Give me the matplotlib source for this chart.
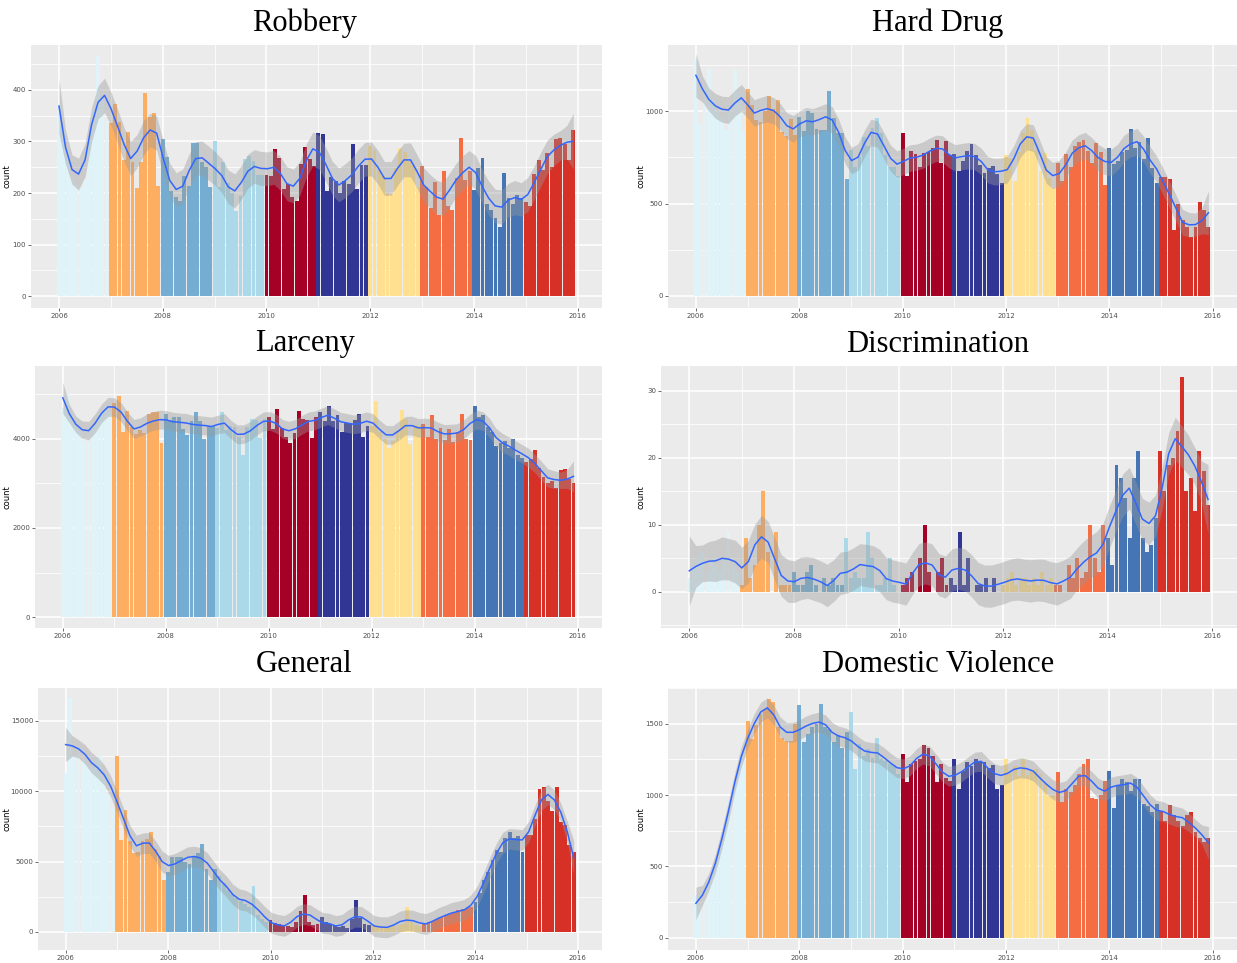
import numpy as np
import matplotlib
matplotlib.use("Agg")
import matplotlib.pyplot as plt

# monthly counts, Jan 2006 .. Dec 2015 (one row per year)
robbery = [
    370, 320, 280, 230, 215, 210, 225, 300, 360, 465, 385, 340,
    336, 373, 338, 264, 318, 260, 210, 260, 394, 347, 355, 213,
    305, 270, 203, 192, 184, 232, 214, 297, 297, 261, 250, 212,
    300, 212, 260, 220, 200, 165, 195, 265, 272, 262, 235, 235,
    235, 233, 285, 268, 207, 218, 193, 184, 256, 289, 266, 252,
    316, 314, 203, 231, 223, 200, 224, 218, 295, 207, 254, 254,
    292, 283, 245, 232, 200, 198, 248, 288, 280, 262, 255, 211,
    252, 211, 170, 221, 157, 242, 175, 168, 230, 307, 226, 242,
    205, 248, 268, 178, 168, 152, 135, 238, 190, 178, 197, 190,
    182, 175, 236, 264, 244, 277, 250, 305, 306, 295, 264, 322,
]
hard_drug = [
    1280, 930, 1130, 1225, 1060, 1000, 960, 895, 1000, 1220, 1100, 900,
    1118, 1035, 950, 940, 1000, 1080, 1010, 1060, 885, 865, 955, 870,
    970, 890, 1000, 990, 905, 900, 895, 1110, 960, 880, 880, 630,
    790, 700, 750, 860, 810, 910, 960, 880, 760, 700, 700, 650,
    880, 650, 785, 765, 700, 775, 780, 800, 845, 720, 840, 760,
    770, 675, 730, 785, 820, 760, 710, 665, 690, 705, 660, 610,
    760, 745, 620, 780, 880, 960, 900, 790, 675, 775, 640, 585,
    720, 620, 770, 700, 810, 830, 845, 785, 720, 825, 780, 600,
    800, 715, 730, 780, 790, 905, 800, 830, 740, 855, 690, 610,
    645, 645, 635, 355, 500, 410, 375, 320, 375, 510, 465, 375,
]
larceny = [
    4700, 5000, 4500, 4350, 4200, 3950, 4200, 4300, 4450, 4600, 4750, 4600,
    4800, 4960, 4150, 4630, 4280, 4110, 4200, 4130, 4570, 4600, 4600, 3910,
    4570, 4420, 4500, 4500, 4230, 4100, 4400, 4600, 4400, 3990, 4300, 4300,
    4250, 4600, 4200, 4300, 4280, 4050, 3650, 4280, 4450, 4430, 4030, 4450,
    4500, 4220, 4680, 4250, 4050, 3900, 4140, 4620, 4440, 4420, 4030, 4500,
    4600, 4400, 4750, 4400, 4540, 4150, 4350, 4350, 4430, 4570, 4050, 4300,
    4300, 4860, 4150, 4000, 3800, 3950, 4200, 4650, 4450, 3880, 4320, 4300,
    4330, 4050, 4550, 4000, 4250, 3970, 4230, 3940, 4150, 4570, 4010, 3980,
    4730, 4500, 4540, 4270, 4150, 3850, 3900, 3960, 3800, 3990, 3650, 3570,
    3480, 3550, 3750, 3350, 3150, 3000, 3050, 2900, 3300, 3320, 3100, 3020,
]
discrimination = [
    2, 4, 5, 6, 3, 5, 4, 3, 5, 9, 4, 3,
    1, 8, 2, 4, 10, 15, 6, 0, 9, 1, 1, 1,
    3, 1, 1, 3, 4, 1, 0, 2, 1, 2, 1, 1,
    8, 2, 3, 2, 2, 9, 5, 1, 1, 2, 5, 1,
    0, 1, 2, 3, 0, 5, 10, 3, 0, 3, 5, 1,
    2, 1, 9, 1, 5, 0, 1, 1, 2, 0, 2, 0,
    1, 2, 3, 1, 2, 2, 1, 2, 1, 3, 1, 2,
    1, 1, 0, 4, 2, 5, 2, 3, 10, 5, 3, 10,
    8, 4, 19, 17, 14, 8, 17, 21, 8, 6, 7, 11,
    21, 15, 19, 20, 24, 32, 15, 17, 12, 21, 18, 13,
]
general = [
    11300, 16600, 12600, 13200, 12200, 11900, 11700, 12200, 12600, 11000, 9800, 8800,
    12500, 6540, 8700, 6500, 5600, 5700, 6500, 6600, 7100, 5900, 5400, 3700,
    4300, 5300, 5300, 5300, 5000, 4800, 5300, 5600, 6250, 4500, 3700, 4500,
    4000, 3500, 3000, 2700, 2400, 2200, 2000, 1800, 3300, 1200, 900, 700,
    870, 650, 600, 500, 400, 380, 700, 1500, 2650, 700, 500, 550,
    1100, 700, 600, 500, 350, 400, 300, 900, 2300, 1000, 600, 500,
    500, 400, 450, 350, 350, 400, 500, 600, 1800, 700, 500, 400,
    600, 700, 800, 900, 1100, 1200, 1300, 1400, 1550, 1600, 1700, 1800,
    2100, 2800, 3700, 4300, 5100, 5800, 5700, 6700, 7100, 6700, 6800, 5700,
    6900, 6900, 8000, 10200, 10300, 9300, 8600, 10300, 7800, 7600, 6200, 5700,
]
domestic_violence = [
    300, 230, 280, 380, 480, 560, 680, 820, 950, 1080, 1200, 1300,
    1520, 1390, 1490, 1570, 1600, 1670, 1650, 1480, 1400, 1380, 1380, 1500,
    1630, 1370, 1430, 1480, 1500, 1640, 1480, 1460, 1370, 1420, 1330, 1440,
    1580, 1180, 1360, 1270, 1320, 1260, 1400, 1250, 1240, 1220, 1210, 1150,
    1290, 1090, 1220, 1240, 1250, 1350, 1330, 1270, 1090, 1220, 1120, 1100,
    1250, 1040, 1170, 1230, 1200, 1250, 1240, 1230, 1190, 1210, 1040, 1070,
    1250, 1160, 1200, 1130, 1250, 1140, 1170, 1180, 1150, 1080, 990, 1000,
    1160, 950, 1040, 1020, 1070, 1150, 1220, 1250, 980, 970, 1000, 1100,
    1170, 910, 1070, 1110, 1090, 1030, 1110, 1110, 940, 920, 880, 940,
    890, 820, 930, 860, 820, 780, 860, 880, 740, 700, 670, 700,
]

years = list(range(2006, 2016))
year_colors = ["#e0f3f8", "#fdae61", "#74add1", "#abd9e9", "#a50026",
               "#313695", "#fee090", "#f46d43", "#4575b4", "#d73027"]

titles = ["Robbery", "Hard Drug", "Larceny", "Discrimination", "General", "Domestic Violence"]
series = [robbery, hard_drug, larceny, discrimination, general, domestic_violence]
y_ticks = [[0, 100, 200, 300, 400], [0, 500, 1000], [0, 2000, 4000],
           [0, 10, 20, 30], [0, 5000, 10000, 15000], [0, 500, 1000, 1500]]
x_ticks = [2006, 2008, 2010, 2012, 2014, 2016]

# panel boxes in pixels (left, top, right, bottom) and y limits
W, H = 1237, 963
boxes = [(31, 45, 602, 308), (668, 45, 1237, 308),
         (35, 366, 602, 628), (661, 366, 1237, 628),
         (38, 688, 602, 950), (668, 688, 1237, 950)]
ylims = [(-23, 487), (-65, 1357), (-247, 5640), (-5.4, 33.7), (-1280, 17346), (-86, 1750)]
title_pos = [(305, 23), (938, 23), (305, 344), (938, 344), (304, 665), (938, 665)]
ylabel_x = [12, 645, 12, 645, 12, 645]
XLIM = (2005.46, 2016.47)


def loess_operator(x, xs, span):
    """Rows of the local quadratic (tricube) smoother evaluated at xs."""
    n = len(x)
    q = int(np.floor(span * n))
    rows = []
    for x0 in xs:
        d = np.abs(x - x0)
        h = np.sort(d)[q - 1] * 1.0001
        u = d / h
        w = np.where(u < 1, (1 - u ** 3) ** 3, 0.0)
        B = np.column_stack([np.ones(n), x - x0, (x - x0) ** 2])
        BW = B * w[:, None]
        A = np.linalg.pinv(B.T @ BW) @ BW.T
        rows.append(A[0])
    return np.array(rows)


def smooth(x, y, span=0.12, npts=80):
    xs = np.linspace(x.min(), x.max(), npts)
    L = loess_operator(x, x, span)
    resid = y - L @ y
    nu = len(x) - 2 * np.trace(L) + np.trace(L.T @ L)
    sigma = np.sqrt(np.sum(resid ** 2) / nu)
    G = loess_operator(x, xs, span)
    fit = G @ y
    se = sigma * np.sqrt(np.sum(G ** 2, axis=1))
    return xs, fit, fit - 1.98 * se, fit + 1.98 * se


fig = plt.figure(figsize=(W / 100, H / 100), dpi=100)
month_x = 2006 + np.arange(120) / 12.0
bar_colors = [year_colors[i // 12] for i in range(120)]

for k, (vals, title) in enumerate(zip(series, titles)):
    l, t, r, b = boxes[k]
    ax = fig.add_axes([l / W, 1 - b / H, (r - l) / W, (b - t) / H])
    ax.set_facecolor("#EBEBEB")

    yt = y_ticks[k]
    step = yt[1] - yt[0]
    ax.set_yticks(yt)
    ax.set_yticks([v + step / 2 for v in [yt[0] - step] + yt], minor=True)
    ax.set_xticks(x_ticks)
    ax.set_xticks([2005, 2007, 2009, 2011, 2013, 2015, 2017], minor=True)
    ax.set_xticklabels([str(v) for v in x_ticks])
    ax.grid(which="major", color="white", linewidth=1.1)
    ax.grid(which="minor", color="white", linewidth=0.55)
    ax.set_axisbelow(True)
    for s in ax.spines.values():
        s.set_visible(False)
    ax.tick_params(which="major", length=2, width=0.5, color="#333333",
                   labelsize=5, labelcolor="#4D4D4D", pad=1.5)
    ax.tick_params(which="minor", length=0)
    ax.set_ylabel("count", fontsize=6, color="black")
    ax.yaxis.set_label_coords((ylabel_x[k] - l) / (r - l), 0.5)

    y = np.array(vals, dtype=float)
    ax.bar(month_x, y, width=0.9 / 12, color=bar_colors, linewidth=0, zorder=2)

    xs, fit, lo, hi = smooth(month_x - 2006, y)
    xs = xs + 2006
    ax.fill_between(xs, lo, hi, color="#999999", alpha=0.4, linewidth=0, zorder=3)
    ax.plot(xs, fit, color="#3366FF", linewidth=1.1, zorder=4)

    # limits last, so the minor tick positions do not widen the view
    ax.set_xlim(*XLIM)
    ax.set_ylim(*ylims[k])

    tx, ty = title_pos[k]
    fig.text(tx / W, 1 - ty / H, title, ha="center", va="center",
             fontsize=22, family="Liberation Serif")

fig.savefig("out.png", dpi=100)
